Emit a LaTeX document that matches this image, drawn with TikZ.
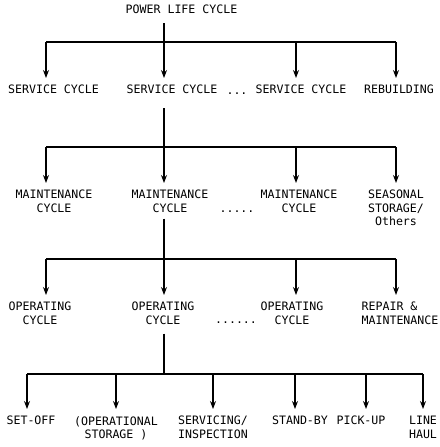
\documentclass[tikz,border=0pt]{standalone}
\usepackage{fontspec}
\setmonofont{DejaVu Sans Mono}
\usetikzlibrary{arrows.meta}
\begin{document}
\begin{tikzpicture}[x=1pt,y=-1pt,
  lbl/.style={font=\ttfamily\fontsize{11.6}{13.5}\selectfont, inner sep=0pt, anchor=north, align=center},
  dots/.style={font=\ttfamily\fontsize{11.6}{13.5}\selectfont, inner sep=0pt, anchor=base},
  ln/.style={line width=1.1pt},
  arr/.style={line width=1.1pt, -{Stealth[length=8pt,width=6pt]}, shorten >=7pt}]
\useasboundingbox (0,0) rectangle (439,447);

% title
\node[lbl] (t) at (181.5,5) {POWER LIFE CYCLE};

% level 1
\coordinate (a1) at (46,42);
\coordinate (a2) at (164,42);
\coordinate (a3) at (296,42);
\coordinate (a4) at (396,42);
\node[lbl] (s1) at (53.5,85) {SERVICE CYCLE};
\node[lbl] (s2) at (172,85) {SERVICE CYCLE};
\node[dots] (d1) at (237,94) {...};
\node[lbl] (s3) at (301,85) {SERVICE CYCLE};
\node[lbl] (r) at (399,85) {REBUILDING};
\draw[ln] (a1) -- (a4);
\draw[arr, shorten <=9pt] (t.south -| a2) -- (a2 |- s2.north);
\draw[arr] (a1) -- (a1 |- s1.north);
\draw[arr] (a3) -- (a3 |- s3.north);
\draw[arr] (a4) -- (a4 |- r.north);

% level 2
\coordinate (b1) at (46,147);
\coordinate (b2) at (164,147);
\coordinate (b3) at (296,147);
\coordinate (b4) at (396,147);
\node[lbl] (m1) at (54,190) {MAINTENANCE\\CYCLE};
\node[lbl] (m2) at (170,190) {MAINTENANCE\\CYCLE};
\node[dots] (d2) at (237,212) {.....};
\node[lbl] (m3) at (299,190) {MAINTENANCE\\CYCLE};
\node[lbl] (m4) at (396,190) {SEASONAL\\STORAGE/\\Others};
\draw[ln] (b1) -- (b4);
\draw[arr, shorten <=14pt] (s2.south -| b2) -- (b2 |- m2.north);
\draw[arr] (b1) -- (b1 |- m1.north);
\draw[arr] (b3) -- (b3 |- m3.north);
\draw[arr] (b4) -- (b4 |- m4.north);

% level 3
\coordinate (c1) at (46,259);
\coordinate (c2) at (164,259);
\coordinate (c3) at (296,259);
\coordinate (c4) at (396,259);
\node[lbl] (o1) at (40,302) {OPERATING\\CYCLE};
\node[lbl] (o2) at (163,302) {OPERATING\\CYCLE};
\node[dots] (d3) at (236,323) {......};
\node[lbl] (o3) at (292,302) {OPERATING\\CYCLE};
\node[lbl, align=left] (o4) at (400,302) {REPAIR \&\\MAINTENANCE};
\draw[ln] (c1) -- (c4);
\draw[arr, shorten <=6pt] (m2.south -| c2) -- (c2 |- o2.north);
\draw[arr] (c1) -- (c1 |- o1.north);
\draw[arr] (c3) -- (c3 |- o3.north);
\draw[arr] (c4) -- (c4 |- o4.north);

% level 4
\coordinate (e0) at (164,374);
\coordinate (e1) at (27,374);
\coordinate (e2) at (116,374);
\coordinate (e3) at (213,374);
\coordinate (e4) at (295,374);
\coordinate (e5) at (366,374);
\coordinate (e6) at (423,374);
\node[lbl] (f1) at (31,416) {SET-OFF};
\node[lbl] (f2) at (116,416) {(OPERATIONAL\\STORAGE )};
\node[lbl] (f3) at (213,416) {SERVICING/\\INSPECTION};
\node[lbl] (f4) at (300,416) {STAND-BY};
\node[lbl] (f5) at (361,416) {PICK-UP};
\node[lbl, align=right] (f6) at (423,416) {LINE\\HAUL};
\draw[ln] (e1) -- (e6);
\draw[ln, shorten <=9pt] (o2.south -| e0) -- (e0);
\draw[arr] (e1) -- (e1 |- f1.north);
\draw[arr] (e2) -- (e2 |- f2.north);
\draw[arr] (e3) -- (e3 |- f3.north);
\draw[arr] (e4) -- (e4 |- f4.north);
\draw[arr] (e5) -- (e5 |- f5.north);
\draw[arr] (e6) -- (e6 |- f6.north);
\end{tikzpicture}
\end{document}
